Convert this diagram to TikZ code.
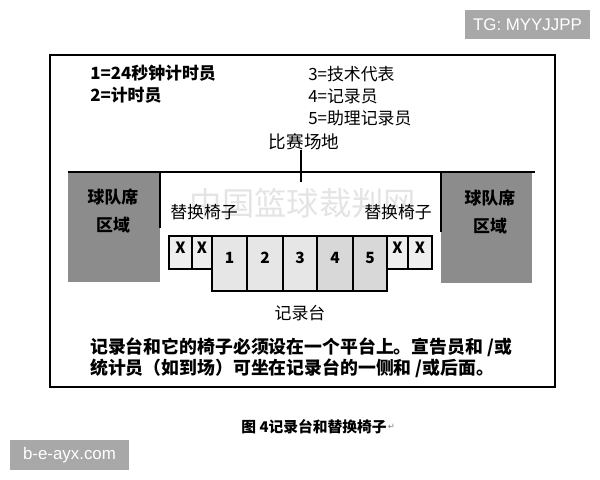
\documentclass[tikz,border=0pt]{standalone}
\usepackage{fontspec}
\setmainfont{Noto Sans CJK SC}
\newfontfamily\tagfont{Liberation Sans}
\newfontfamily\symfont{DejaVu Sans}
\usetikzlibrary{positioning}

\definecolor{benchgray}{RGB}{140,140,140}
\definecolor{seatgray}{RGB}{238,238,238}
\definecolor{deskgray}{RGB}{230,230,230}
\definecolor{deskdark}{RGB}{216,216,216}
\definecolor{taggray}{RGB}{168,168,168}
\definecolor{wmgray}{RGB}{228,228,228}

\tikzset{
  txt/.style={inner sep=0pt, font=\fontsize{12}{14}\selectfont},
  legend/.style={txt, anchor=west, font=\fontsize{12}{14}\selectfont},
  tagbox/.style={fill=taggray, text=white, inner sep=0pt, font=\tagfont\fontsize{12}{14}\selectfont},
  bench/.style={fill=benchgray, draw=none},
  seat/.style={draw, line width=0.9pt, fill=seatgray},
  desk/.style={draw, line width=0.9pt, fill=deskgray},
}

\begin{document}
\begin{tikzpicture}[x=0.025cm, y=-0.025cm]
  \useasboundingbox (0,0) rectangle (600,480);

  % tags at the corners
  \node[tagbox, minimum width=3.125cm, minimum height=0.725cm] (tg) at (527.5,24.5) {TG: MYYJJPP};
  \node[tagbox, minimum width=2.975cm, minimum height=0.75cm] (site) at (69.5,455) {b-e-ayx.com};

  % outer frame
  \draw[line width=1pt] (50,55) rectangle (555,387);

  % legend
  \node[legend, font=\bfseries\fontsize{12}{14}\selectfont] (l1) at (90,73) {1=24秒钟计时员};
  \node[legend, font=\bfseries\fontsize{12}{14}\selectfont] (l2) at (90,95) {2=计时员};
  \node[legend] (l3) at (308,74) {3=技术代表};
  \node[legend] (l4) at (308,96) {4=记录员};
  \node[legend] (l5) at (308,118) {5=助理记录员};

  % faint watermark
  \node[inner sep=0pt, text=wmgray, font=\fontsize{23}{26}\selectfont] (wm) at (303,203) {中国篮球裁判网};

  % team bench areas
  \fill[bench] (68,172) rectangle (160,282);
  \fill[bench] (441,172) rectangle (532,283);
  \draw[line width=1.3pt] (160,228) -- (160,172) -- (441,172) -- (441,232);
  \draw[line width=1.3pt] (68,172) -- (160,172) (441,172) -- (535,172);
  \node[txt, align=center, font=\bfseries\fontsize{12}{20}\selectfont] (benchL) at (113,211) {球队席\\区域};
  \node[txt, align=center, font=\bfseries\fontsize{12}{20}\selectfont] (benchR) at (490,212) {球队席\\区域};

  % playing court
  \node[txt, font=\fontsize{12.5}{14}\selectfont] (court) at (304,142) {比赛场地};
  \coordinate (mid) at (301,182);
  \draw[line width=0.9pt] (court.south -| mid) -- (mid);

  % substitute chairs
  \node[txt] (subL) at (204,212) {替换椅子};
  \node[txt] (subR) at (398,212) {替换椅子};
  \foreach \xa/\xb [count=\i] in {169/192, 192/212, 387/408, 408/432} {
    \draw[seat] (\xa,236) rectangle (\xb,269);
    \node[txt, font=\bfseries\fontsize{11}{13}\selectfont] (x\i) at ({(\xa+\xb)/2},248) {X};
  }

  % scorer's table
  \foreach \n/\xa/\xb/\c in {1/212/247/deskgray, 2/247/283/deskgray, 3/283/317/deskgray, 4/317/353/deskdark, 5/353/387/deskdark} {
    \draw[desk, fill=\c] (\xa,236) rectangle (\xb,291);
    \node[txt, font=\bfseries\fontsize{11}{13}\selectfont] (d\n) at ({(\xa+\xb)/2},258) {\n};
  }
  \node[txt] (table) at (300,313) {记录台};

  % note
  \node[txt, anchor=west, font=\bfseries\fontsize{12.7}{15}\selectfont] (n1) at (90,347) {记录台和它的椅子必须设在一个平台上。宣告员和 /或};
  \node[txt, anchor=west, font=\bfseries\fontsize{12.7}{15}\selectfont] (n2) at (90,368) {统计员（如到场）可坐在记录台的一侧和 /或后面。};

  % caption
  \node[txt, font=\bfseries\fontsize{10.5}{12}\selectfont] (cap) at (314,427) {图 4记录台和替换椅子};
  \node[inner sep=0pt, text=gray, font=\symfont\fontsize{6}{7}\selectfont, right=0.5pt of cap.east] (ret) {↵};
\end{tikzpicture}
\end{document}
